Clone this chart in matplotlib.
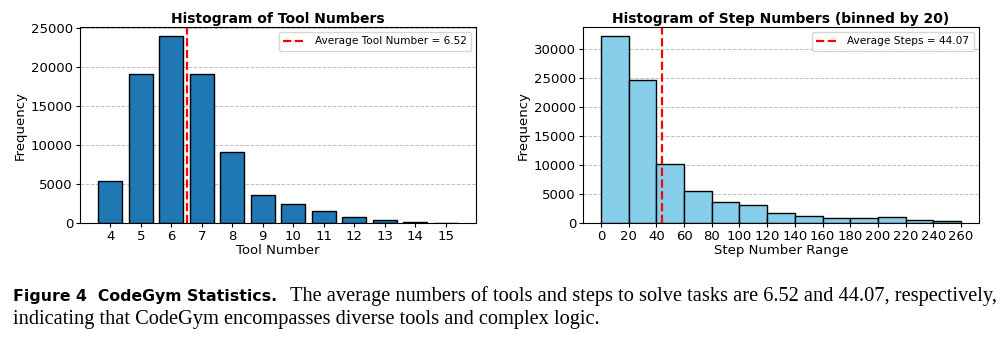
import numpy as np
import matplotlib
matplotlib.use("Agg")
import matplotlib.pyplot as plt

# tool counts per task
tool_numbers = [4, 5, 6, 7, 8, 9, 10, 11, 12, 13, 14, 15]
tool_freq = [5400, 19100, 23950, 19100, 9100, 3650, 2400, 1550, 800, 380, 170, 60]
avg_tools = 6.52

# step counts, binned by 20
step_edges = list(range(0, 261, 20))
step_freq = [32200, 24700, 10100, 5450, 3600, 3150, 1720, 1200, 930, 870, 970, 470, 360]
avg_steps = 44.07

W, H = 1004, 337
fig = plt.figure(figsize=(W / 100, H / 100), dpi=100)
ax1 = fig.add_axes([80 / W, 1 - 223 / H, 396 / W, 196 / H])
ax2 = fig.add_axes([583 / W, 1 - 223 / H, 396 / W, 196 / H])

# left: tools
ax1.bar(tool_numbers, tool_freq, width=0.8, color="#1f77b4", edgecolor="black", linewidth=1)
ax1.axvline(avg_tools, color="red", linestyle="--", linewidth=1.6,
            label=f"Average Tool Number = {avg_tools:.2f}")
ax1.set_xticks(tool_numbers)
ax1.set_title("Histogram of Tool Numbers", fontsize=10, fontweight="bold", pad=3)
ax1.set_xlabel("Tool Number", fontsize=9.5, labelpad=1)
ax1.set_ylabel("Frequency", fontsize=9.5, labelpad=3)

# right: steps
lefts = step_edges[:-1]
ax2.bar(lefts, step_freq, width=20, align="edge", color="skyblue", edgecolor="black", linewidth=1)
ax2.axvline(avg_steps, color="red", linestyle="--", linewidth=1.6,
            label=f"Average Steps = {avg_steps:.2f}")
ax2.set_xticks(step_edges)
ax2.set_title("Histogram of Step Numbers (binned by 20)", fontsize=10, fontweight="bold", pad=3)
ax2.set_xlabel("Step Number Range", fontsize=9.5, labelpad=1)
ax2.set_ylabel("Frequency", fontsize=9.5, labelpad=3)

for ax in (ax1, ax2):
    ax.grid(axis="y", linestyle="--", color="gray", alpha=0.5, linewidth=0.7)
    ax.set_axisbelow(True)
    ax.tick_params(labelsize=9.5, length=3, pad=2)
    ax.legend(loc="upper right", fontsize=7.6, handlelength=2.2, borderpad=0.4)


def fit_text(x, y, s, width_px, **kw):
    # scale the font so the string spans width_px
    t = fig.text(x / W, 1 - y / H, s, va="baseline", **kw)
    fig.canvas.draw()
    w = t.get_window_extent().width
    t.set_fontsize(t.get_fontsize() * width_px / w)
    return t


# caption below the panels
fit_text(13, 301, "Figure 4  CodeGym Statistics.", 264,
         fontsize=12, fontweight="bold", family="DejaVu Sans")
line1 = fit_text(290, 301,
                 "The average numbers of tools and steps to solve tasks are 6.52 and 44.07, respectively,",
                 705, fontsize=12, family="Liberation Serif")
fig.text(13 / W, 1 - 324 / H,
         "indicating that CodeGym encompasses diverse tools and complex logic.",
         fontsize=line1.get_fontsize(), family="Liberation Serif", va="baseline")

fig.savefig("out.png", dpi=100)
